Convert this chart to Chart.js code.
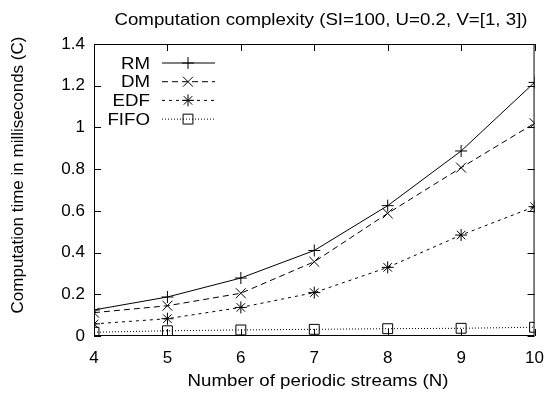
<!DOCTYPE html>
<html>
<head>
<meta charset="utf-8">
<script src="https://cdn.jsdelivr.net/npm/chart.js@4"></script>
<style>
  html, body { margin: 0; padding: 0; background: #fff; }
  #wrap { width: 556px; height: 396px; }
</style>
</head>
<body>
<div id="wrap"><canvas id="c" width="556" height="396"></canvas></div>
<script>
// valores
var streams = [4, 5, 6, 7, 8, 9, 10];
var rmTime = [0.125, 0.187, 0.278, 0.41, 0.625, 0.887, 1.216];
var dmTime = [0.112, 0.145, 0.205, 0.356, 0.588, 0.807, 1.02];
var edfTime = [0.058, 0.083, 0.137, 0.208, 0.329, 0.484, 0.62];
var fifoTime = [0.018, 0.025, 0.029, 0.032, 0.035, 0.037, 0.042];
var yTicks = [0, 0.2, 0.4, 0.6, 0.8, 1, 1.2, 1.4];

var FONT = '"Liberation Sans", Arial, sans-serif';
var STRETCH = 1.1;

function pts(vals) {
  return vals.map(function (v, i) { return { x: streams[i], y: v }; });
}

var series = [
  { label: 'RM', data: rmTime, dash: [], style: 'cross', radius: 6 },
  { label: 'DM', data: dmTime, dash: [6, 4], style: 'crossRot', radius: 7 },
  { label: 'EDF', data: edfTime, dash: [3, 4], style: 'star', radius: 6 },
  { label: 'FIFO', data: fifoTime, dash: [1, 2], style: 'rect', radius: 7 }
];

function wideText(ctx, text, x, y, align) {
  ctx.save();
  ctx.translate(x, y);
  ctx.scale(STRETCH, 1);
  ctx.textAlign = align;
  ctx.fillText(text, 0, 0);
  ctx.restore();
}

// ticks para dentro em todos os lados, legenda e textos estilo gnuplot
var gnuplotLook = {
  id: 'gnuplotLook',
  afterDraw: function (chart) {
    var ctx = chart.ctx;
    var a = chart.chartArea;
    var xs = chart.scales.x, ys = chart.scales.y;
    ctx.save();
    ctx.strokeStyle = '#000';
    ctx.lineWidth = 1;
    ctx.setLineDash([]);
    ctx.strokeRect(a.left + 0.5, a.top + 0.5, a.right - a.left - 1, a.bottom - a.top - 1);
    ctx.beginPath();
    streams.forEach(function (v) {
      var px = Math.round(xs.getPixelForValue(v)) + 0.5;
      ctx.moveTo(px, a.bottom); ctx.lineTo(px, a.bottom - 7);
      ctx.moveTo(px, a.top); ctx.lineTo(px, a.top + 7);
    });
    yTicks.forEach(function (v) {
      var py = Math.round(ys.getPixelForValue(v)) + 0.5;
      ctx.moveTo(a.left, py); ctx.lineTo(a.left + 7, py);
      ctx.moveTo(a.right, py); ctx.lineTo(a.right - 7, py);
    });
    ctx.stroke();

    // legenda
    ctx.font = '17px ' + FONT;
    ctx.textBaseline = 'middle';
    chart.data.datasets.forEach(function (ds, i) {
      var y = 63 + i * 18.7;
      ctx.fillStyle = '#000';
      wideText(ctx, ds.label, 150, y + 1, 'right');
      ctx.beginPath();
      ctx.setLineDash(ds.borderDash || []);
      ctx.moveTo(162, y); ctx.lineTo(215, y);
      ctx.stroke();
      ctx.setLineDash([]);
      ctx.fillStyle = 'rgba(0,0,0,0)';
      Chart.helpers.drawPoint(ctx, {
        pointStyle: ds.pointStyle, radius: ds.pointRadius, borderWidth: 1, rotation: 0
      }, 188, y);
    });

    // titulos
    ctx.fillStyle = '#000';
    wideText(ctx, 'Computation complexity (SI=100, U=0.2, V=[1, 3])', 321, 20, 'center');
    wideText(ctx, 'Number of periodic streams (N)', 318, 381, 'center');
    ctx.font = '17px ' + FONT;
    ctx.translate(18, 175);
    ctx.rotate(-Math.PI / 2);
    ctx.textAlign = 'center';
    ctx.fillText('Computation time in milliseconds (C)', 0, 0);
    ctx.restore();
  }
};

new Chart(document.getElementById('c'), {
  type: 'line',
  data: {
    datasets: series.map(function (s) {
      return {
        label: s.label,
        data: pts(s.data),
        borderColor: '#000',
        backgroundColor: 'transparent',
        borderWidth: 1,
        borderDash: s.dash,
        pointStyle: s.style,
        pointRadius: s.radius,
        pointBorderColor: '#000',
        pointBackgroundColor: 'transparent',
        pointBorderWidth: 1,
        tension: 0
      };
    })
  },
  options: {
    responsive: false,
    animation: false,
    layout: { padding: { top: 44, right: 13, left: 0, bottom: 0 } },
    plugins: { legend: { display: false }, title: { display: false }, tooltip: { enabled: false } },
    scales: {
      x: {
        type: 'linear', min: 4, max: 10,
        grid: { display: false, drawTicks: false },
        border: { display: false },
        afterFit: function (s) { s.height = 60; },
        afterBuildTicks: function (s) { s.ticks = streams.map(function (v) { return { value: v }; }); },
        ticks: { color: '#000', padding: 12, font: { family: FONT, size: 17 } }
      },
      y: {
        type: 'linear', min: 0, max: 1.4,
        grid: { display: false, drawTicks: false },
        border: { display: false },
        afterFit: function (s) { s.width = 94; },
        afterBuildTicks: function (s) { s.ticks = yTicks.map(function (v) { return { value: v }; }); },
        ticks: {
          color: '#000', padding: 9, font: { family: FONT, size: 17 },
          callback: function (v) { return String(v); }
        }
      }
    }
  },
  plugins: [gnuplotLook]
});
</script>
</body>
</html>
